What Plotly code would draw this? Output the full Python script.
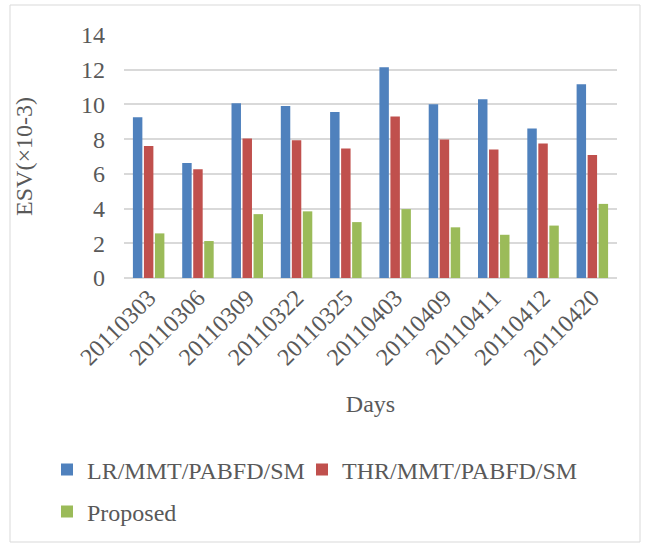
import plotly.graph_objects as go

days = ["20110303", "20110306", "20110309", "20110322", "20110325",
        "20110403", "20110409", "20110411", "20110412", "20110420"]
lr_mmt = [9.26, 6.62, 10.07, 9.91, 9.57, 12.14, 10.01, 10.30, 8.61, 11.16]
thr_mmt = [7.61, 6.27, 8.04, 7.94, 7.46, 9.30, 7.98, 7.40, 7.75, 7.09]
proposed = [2.57, 2.13, 3.68, 3.84, 3.22, 3.97, 2.92, 2.49, 3.02, 4.27]

series_names = ["LR/MMT/PABFD/SM", "THR/MMT/PABFD/SM", "Proposed"]
series_colors = ["#4f81bd", "#c0504d", "#9bbb59"]
y_ticks = [0, 2, 4, 6, 8, 10, 12, 14]

FONT = "Liberation Serif, Times New Roman, serif"
GRAY = "#595959"
FS = 24

W, H = 645, 543
L, R, T, B = 124, 28, 35, 265
PW, PH = W - L - R, H - T - B


def px_x(p):
    return (p - L) / PW


def px_y(p):
    return (H - B - p) / PH


legend_ids = ["legend", "legend2", "legend3"]
legend_pos = [(47, 470), (302, 470), (47, 512)]

fig = go.Figure()
for name, vals, col, lg in zip(series_names, [lr_mmt, thr_mmt, proposed],
                               series_colors, legend_ids):
    fig.add_trace(go.Bar(x=days, y=vals, name=name, legend=lg,
                         marker=dict(color=col, line=dict(width=0))))

legend_layout = {}
for lg, (lx, ly) in zip(legend_ids, legend_pos):
    legend_layout[lg] = dict(orientation="h", xref="container", yref="container",
                             x=lx / W, xanchor="left",
                             y=1 - ly / H, yanchor="middle",
                             bgcolor="rgba(0,0,0,0)",
                             font=dict(size=FS, color=GRAY), itemclick=False)

fig.update_layout(
    width=W, height=H,
    margin=dict(l=L, r=R, t=T, b=B, autoexpand=False),
    paper_bgcolor="white", plot_bgcolor="white",
    font=dict(family=FONT, color=GRAY, size=FS),
    barmode="group", bargap=0.33, bargroupgap=0.14,
    showlegend=True,
    **legend_layout,
)

fig.update_xaxes(type="category", tickangle=-45, showgrid=False,
                 showline=False, ticks="",
                 tickfont=dict(size=FS, color=GRAY),
                 title=dict(text="Days", font=dict(size=FS, color=GRAY), standoff=25))
fig.update_yaxes(range=[0, 14], tickvals=y_ticks, showgrid=True,
                 gridcolor="#d9d9d9", gridwidth=1.5,
                 zeroline=True, zerolinecolor="#d9d9d9", zerolinewidth=1.5,
                 showline=False, ticks="", ticklabelstandoff=18,
                 tickfont=dict(size=FS, color=GRAY),
                 title=dict(text="ESV(×10-3)", font=dict(size=FS, color=GRAY), standoff=41))

fig.add_shape(type="rect", xref="paper", yref="paper",
              x0=px_x(10), x1=px_x(640), y0=px_y(542), y1=px_y(5),
              line=dict(color="#d9d9d9", width=1), fillcolor="rgba(0,0,0,0)",
              layer="below")

fig.write_html("out.html")
